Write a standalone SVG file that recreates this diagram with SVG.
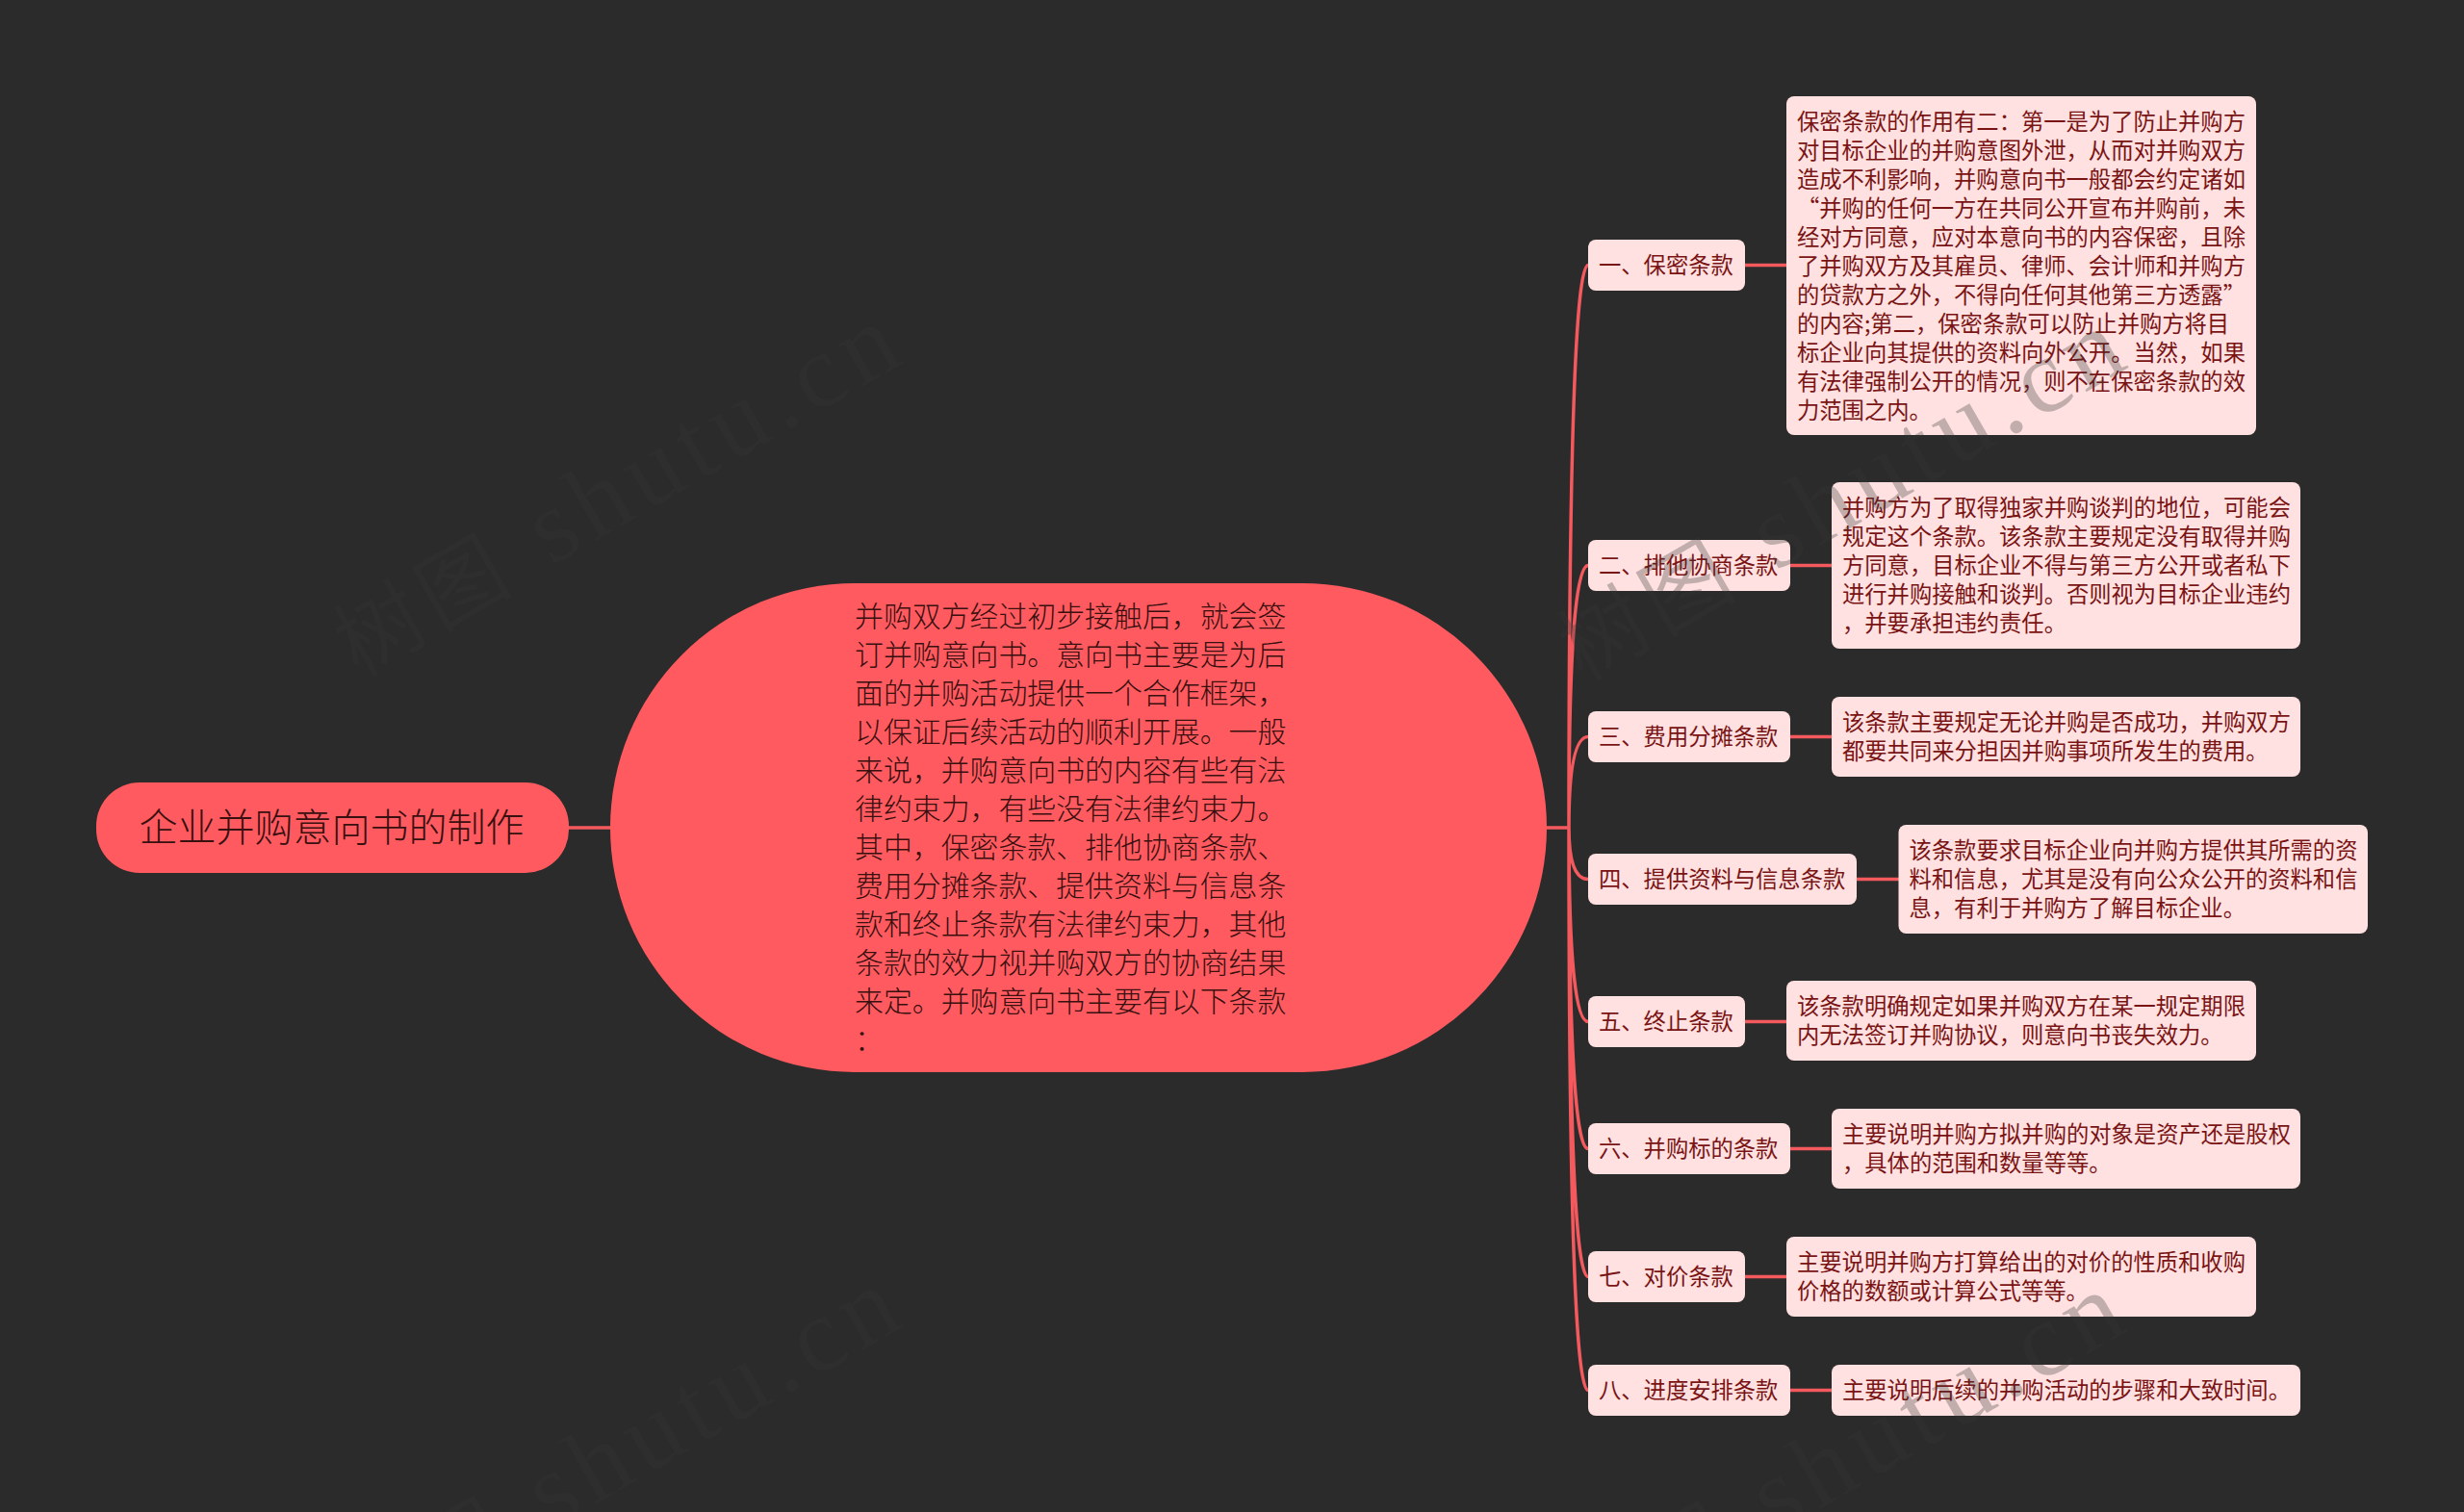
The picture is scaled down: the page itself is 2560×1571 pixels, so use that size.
<svg xmlns="http://www.w3.org/2000/svg" width="2560" height="1571" viewBox="0 0 2560 1571">
<style>
text{font-family:"Noto Sans CJK SC","Noto Sans",sans-serif;font-weight:300}
.bg{fill:#2b2b2b}
.c{fill:none;stroke:#f4595e;stroke-width:3.5}
.r{fill:#ff5a5f}
.l,.d{fill:#ffe1e1}
.lt,.dt{font-size:23.3px;fill:#7a1414;font-weight:400}
.mt{font-size:29.9px;fill:#38100f}
.tt{font-size:40px;fill:#38100f}
.wm{font-family:"Liberation Serif","Noto Serif",serif;font-weight:400;font-size:110px;letter-spacing:8px;fill:#343434;fill-opacity:.3;text-anchor:end}
.wc{font-family:"Noto Sans CJK SC",sans-serif;font-size:90px}
</style>
<rect class="bg" width="2560" height="1571"/>
<g id="connectors">
<path class="c" d="M591 860H634M1607 860H1630"/>
<path class="c" d="M1630 860Q1630 275.500 1650 275.500M1630 860Q1630 587.500 1650 587.500M1630 860Q1630 765.500 1650 765.500M1630 860Q1630 913.500 1650 913.500M1630 860Q1630 1061.500 1650 1061.500M1630 860Q1630 1193.500 1650 1193.500M1630 860Q1630 1326.500 1650 1326.500M1630 860Q1630 1444.500 1650 1444.500"/>
<path class="c" d="M1813 275.500H1856M1860 587.500H1903M1860 765.500H1903M1929 913.500H1973M1813 1061.500H1856M1860 1193.500H1903M1813 1326.500H1856M1860 1444.500H1903"/>
</g>
<g id="root"><rect class="r" x="100" y="813" width="491" height="94" rx="45"/><text class="tt" x="144.500" y="874">企业并购意向书的制作</text></g>
<g id="main"><rect class="r" x="634" y="606" width="973" height="508" rx="254"/>
<text class="mt"><tspan x="888" y="650.500">并购双方经过初步接触后，就会签</tspan><tspan x="888" y="690.500">订并购意向书。意向书主要是为后</tspan><tspan x="888" y="730.500">面的并购活动提供一个合作框架，</tspan><tspan x="888" y="770.500">以保证后续活动的顺利开展。一般</tspan><tspan x="888" y="810.500">来说，并购意向书的内容有些有法</tspan><tspan x="888" y="850.500">律约束力，有些没有法律约束力。</tspan><tspan x="888" y="890.500">其中，保密条款、排他协商条款、</tspan><tspan x="888" y="930.500">费用分摊条款、提供资料与信息条</tspan><tspan x="888" y="970.500">款和终止条款有法律约束力，其他</tspan><tspan x="888" y="1010.500">条款的效力视并购双方的协商结果</tspan><tspan x="888" y="1050.500">来定。并购意向书主要有以下条款</tspan><tspan x="888" y="1090.500">：</tspan></text></g>
<g id="label1"><rect class="l" x="1650" y="249" width="163" height="53" rx="8"/><text class="lt" x="1661" y="284">一、保密条款</text></g>
<g id="detail1"><rect class="d" x="1856" y="100" width="488" height="352" rx="8"/>
<text class="dt"><tspan x="1867" y="135">保密条款的作用有二：第一是为了防止并购方</tspan><tspan x="1867" y="165">对目标企业的并购意图外泄，从而对并购双方</tspan><tspan x="1867" y="195">造成不利影响，并购意向书一般都会约定诸如</tspan><tspan x="1867" y="225">“并购的任何一方在共同公开宣布并购前，未</tspan><tspan x="1867" y="255">经对方同意，应对本意向书的内容保密，且除</tspan><tspan x="1867" y="285">了并购双方及其雇员、律师、会计师和并购方</tspan><tspan x="1867" y="315">的贷款方之外，不得向任何其他第三方透露”</tspan><tspan x="1867" y="345">的内容;第二，保密条款可以防止并购方将目</tspan><tspan x="1867" y="375">标企业向其提供的资料向外公开。当然，如果</tspan><tspan x="1867" y="405">有法律强制公开的情况，则不在保密条款的效</tspan><tspan x="1867" y="435">力范围之内。</tspan></text></g>
<g id="label2"><rect class="l" x="1650" y="561" width="210" height="53" rx="8"/><text class="lt" x="1661" y="596">二、排他协商条款</text></g>
<g id="detail2"><rect class="d" x="1903" y="501" width="487" height="173" rx="8"/>
<text class="dt"><tspan x="1914" y="536">并购方为了取得独家并购谈判的地位，可能会</tspan><tspan x="1914" y="566">规定这个条款。该条款主要规定没有取得并购</tspan><tspan x="1914" y="596">方同意，目标企业不得与第三方公开或者私下</tspan><tspan x="1914" y="626">进行并购接触和谈判。否则视为目标企业违约</tspan><tspan x="1914" y="656">，并要承担违约责任。</tspan></text></g>
<g id="label3"><rect class="l" x="1650" y="739" width="210" height="53" rx="8"/><text class="lt" x="1661" y="774">三、费用分摊条款</text></g>
<g id="detail3"><rect class="d" x="1903" y="724" width="487" height="83" rx="8"/>
<text class="dt"><tspan x="1914" y="759">该条款主要规定无论并购是否成功，并购双方</tspan><tspan x="1914" y="789">都要共同来分担因并购事项所发生的费用。</tspan></text></g>
<g id="label4"><rect class="l" x="1650" y="887" width="279" height="53" rx="8"/><text class="lt" x="1661" y="922">四、提供资料与信息条款</text></g>
<g id="detail4"><rect class="d" x="1972.500" y="857" width="487.500" height="113" rx="8"/>
<text class="dt"><tspan x="1983.500" y="892">该条款要求目标企业向并购方提供其所需的资</tspan><tspan x="1983.500" y="922">料和信息，尤其是没有向公众公开的资料和信</tspan><tspan x="1983.500" y="952">息，有利于并购方了解目标企业。</tspan></text></g>
<g id="label5"><rect class="l" x="1650" y="1035" width="163" height="53" rx="8"/><text class="lt" x="1661" y="1070">五、终止条款</text></g>
<g id="detail5"><rect class="d" x="1856" y="1019" width="488" height="83" rx="8"/>
<text class="dt"><tspan x="1867" y="1054">该条款明确规定如果并购双方在某一规定期限</tspan><tspan x="1867" y="1084">内无法签订并购协议，则意向书丧失效力。</tspan></text></g>
<g id="label6"><rect class="l" x="1650" y="1167" width="210" height="53" rx="8"/><text class="lt" x="1661" y="1202">六、并购标的条款</text></g>
<g id="detail6"><rect class="d" x="1903" y="1152" width="487" height="83" rx="8"/>
<text class="dt"><tspan x="1914" y="1187">主要说明并购方拟并购的对象是资产还是股权</tspan><tspan x="1914" y="1217">，具体的范围和数量等等。</tspan></text></g>
<g id="label7"><rect class="l" x="1650" y="1300" width="163" height="53" rx="8"/><text class="lt" x="1661" y="1335">七、对价条款</text></g>
<g id="detail7"><rect class="d" x="1856" y="1285" width="488" height="83" rx="8"/>
<text class="dt"><tspan x="1867" y="1320">主要说明并购方打算给出的对价的性质和收购</tspan><tspan x="1867" y="1350">价格的数额或计算公式等等。</tspan></text></g>
<g id="label8"><rect class="l" x="1650" y="1418" width="210" height="53" rx="8"/><text class="lt" x="1661" y="1453">八、进度安排条款</text></g>
<g id="detail8"><rect class="d" x="1903" y="1418" width="487" height="53" rx="8"/>
<text class="dt" x="1914" y="1453">主要说明后续的并购活动的步骤和大致时间。</text></g>
<g id="watermark">
<text class="wm" transform="translate(948 372) rotate(-30)"><tspan class="wc">树图</tspan> shutu.cn</text>
<text class="wm" transform="translate(2220 377) rotate(-30)"><tspan class="wc">树图</tspan> shutu.cn</text>
<text class="wm" transform="translate(948 1373) rotate(-30)"><tspan class="wc">树图</tspan> shutu.cn</text>
<text class="wm" transform="translate(2220 1378) rotate(-30)"><tspan class="wc">树图</tspan> shutu.cn</text>
</g>
</svg>
